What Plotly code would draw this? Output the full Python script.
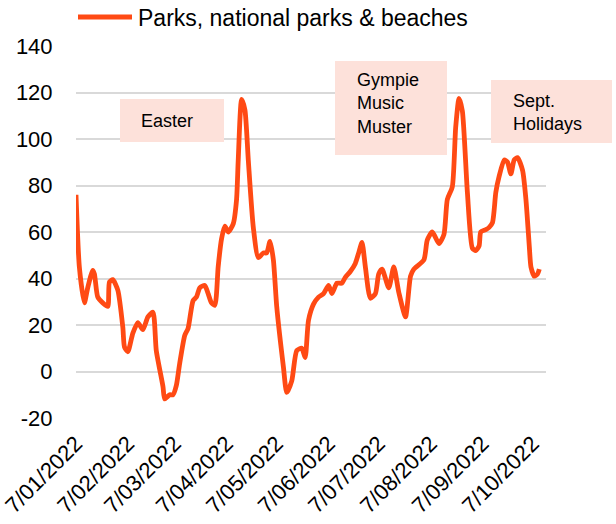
import plotly.graph_objects as go

# Daily visitation index, parks, national parks & beaches (2022)
dates = [
    "2022-01-07", "2022-01-09", "2022-01-12", "2022-01-14", "2022-01-17", "2022-01-18",
    "2022-01-20", "2022-01-23", "2022-01-26", "2022-01-27", "2022-01-29", "2022-02-01",
    "2022-02-04", "2022-02-05", "2022-02-07", "2022-02-10", "2022-02-13", "2022-02-16",
    "2022-02-19", "2022-02-22", "2022-02-24", "2022-02-28", "2022-03-01", "2022-03-04",
    "2022-03-06", "2022-03-08", "2022-03-10", "2022-03-13", "2022-03-15", "2022-03-18",
    "2022-03-20", "2022-03-22", "2022-03-25", "2022-03-27", "2022-03-29", "2022-03-31",
    "2022-04-02", "2022-04-04", "2022-04-06", "2022-04-08", "2022-04-11", "2022-04-13",
    "2022-04-14", "2022-04-16", "2022-04-18", "2022-04-20", "2022-04-23", "2022-04-26",
    "2022-04-29", "2022-05-01", "2022-05-03", "2022-05-05", "2022-05-07", "2022-05-11",
    "2022-05-13", "2022-05-16", "2022-05-19", "2022-05-22", "2022-05-24", "2022-05-26",
    "2022-05-29", "2022-06-01", "2022-06-04", "2022-06-07", "2022-06-09", "2022-06-12",
    "2022-06-15", "2022-06-17", "2022-06-20", "2022-06-23", "2022-06-25", "2022-06-27",
    "2022-06-29", "2022-07-02", "2022-07-05", "2022-07-07", "2022-07-09", "2022-07-13",
    "2022-07-16", "2022-07-19", "2022-07-23", "2022-07-26", "2022-07-28", "2022-08-03",
    "2022-08-05", "2022-08-08", "2022-08-12", "2022-08-15", "2022-08-17", "2022-08-20",
    "2022-08-22", "2022-08-24", "2022-08-26", "2022-08-29", "2022-09-01", "2022-09-03",
    "2022-09-05", "2022-09-06", "2022-09-09", "2022-09-11", "2022-09-13", "2022-09-15",
    "2022-09-17", "2022-09-20", "2022-09-22", "2022-09-24", "2022-09-26", "2022-09-28",
    "2022-10-01", "2022-10-03", "2022-10-05", "2022-10-06", "2022-10-08", "2022-10-10",
    "2022-10-11",
]
parks = [
    76, 45, 29.5, 36, 43.5, 42,
    32, 29.5, 28, 38.5, 39.5, 35,
    19, 10.5, 8.5, 16.5, 21, 18,
    23.5, 25.5, 9, -6.5, -11.8, -10,
    -10, -6, 3.5, 15.5, 18.5, 30.5,
    32, 36, 37, 33.5, 29.5, 28.5,
    45, 57, 62.5, 60, 63.5, 74,
    91, 117, 112.5, 91, 62, 49,
    51, 51, 56, 48, 28, 2,
    -9, -4, 9, 10, 6, 22,
    29, 32, 33.5, 37, 33.5, 38,
    38, 40.5, 43, 46.5, 51, 55.5,
    45, 31.5, 33.5, 42, 44, 36,
    45, 34, 23.5, 41, 44, 48,
    56.5, 60, 55, 59, 74, 79.5,
    105, 117.5, 112, 77, 53, 52,
    54, 60, 61, 62, 64, 77,
    84, 91, 90, 85, 91, 92,
    86.5, 74, 54, 45, 41, 42,
    44,
]

tick_dates = [
    "2022-01-07", "2022-02-07", "2022-03-07", "2022-04-07", "2022-05-07",
    "2022-06-07", "2022-07-07", "2022-08-07", "2022-09-07", "2022-10-07",
]
tick_labels = [
    "7/01/2022", "7/02/2022", "7/03/2022", "7/04/2022", "7/05/2022",
    "7/06/2022", "7/07/2022", "7/08/2022", "7/09/2022", "7/10/2022",
]
y_ticks = [-20, 0, 20, 40, 60, 80, 100, 120, 140]
y_tick_labels = ["-20", "0", "20", "40", "60", "80", "100", "120", "140"]

series_name = "Parks, national parks & beaches"
line_color = "#FF4A14"
box_color = "#FDE1DA"
font_family = "Liberation Sans, Arial, sans-serif"

fig = go.Figure()
fig.add_trace(go.Scatter(
    x=dates, y=parks, mode="lines", name=series_name,
    line=dict(color=line_color, width=4.8, shape="spline", smoothing=0.6),
    showlegend=False,
))

W, H = 616, 524
L, R, T, B = 76, 70, 46, 106
pw, ph = W - L - R, H - T - B


def px(x):
    return (x - L) / pw


def py(y):
    return (H - B - y) / ph


shapes = []
annotations = []

# Legend entry: long line sample followed by series name
shapes.append(dict(type="line", xref="paper", yref="paper",
                   x0=px(78), x1=px(132), y0=py(17), y1=py(17),
                   line=dict(color=line_color, width=5)))
annotations.append(dict(xref="paper", yref="paper", x=px(136), y=py(18),
                        text=series_name, showarrow=False,
                        xanchor="left", yanchor="middle",
                        font=dict(size=23, color="#000000", family=font_family)))

# Event call-out boxes
events = [
    ("Easter", (120, 99, 224, 142), 139, 121),
    ("Gympie<br>Music<br>Muster", (335, 61, 447, 155), 355, 103),
    ("Sept.<br>Holidays", (491, 80, 612, 143), 511, 113),
]
for text, (x0, y0, x1, y1), tx, ty in events:
    shapes.append(dict(type="rect", xref="paper", yref="paper",
                       x0=px(x0), x1=px(x1), y0=py(y1), y1=py(y0),
                       fillcolor=box_color, line=dict(width=0), layer="above"))
    annotations.append(dict(xref="paper", yref="paper", x=px(tx), y=py(ty),
                            text=text, showarrow=False, align="left",
                            xanchor="left", yanchor="middle",
                            font=dict(size=18, color="#000000", family=font_family)))

fig.update_layout(
    width=W, height=H,
    margin=dict(l=L, r=R, t=T, b=B, pad=0, autoexpand=False),
    paper_bgcolor="white", plot_bgcolor="white",
    font=dict(family=font_family, color="#000000"),
    shapes=shapes, annotations=annotations,
    showlegend=False,
)
fig.update_xaxes(
    range=["2022-01-07", "2022-10-15"],
    tickmode="array", tickvals=tick_dates, ticktext=tick_labels,
    tickangle=-45, tickfont=dict(size=22, color="#000000"),
    showgrid=False, showline=False, zeroline=False, automargin=False,
    ticks="outside", ticklen=3, tickcolor="rgba(0,0,0,0)",
)
fig.update_yaxes(
    range=[-20, 140], tickmode="array", tickvals=y_ticks, ticktext=y_tick_labels,
    tickfont=dict(size=22, color="#000000"),
    showgrid=True, gridcolor="#D9D9D9", gridwidth=1.5,
    zeroline=False, showline=False, automargin=False,
    ticks="outside", ticklen=18, tickcolor="rgba(0,0,0,0)",
)

fig.write_html("out.html")
